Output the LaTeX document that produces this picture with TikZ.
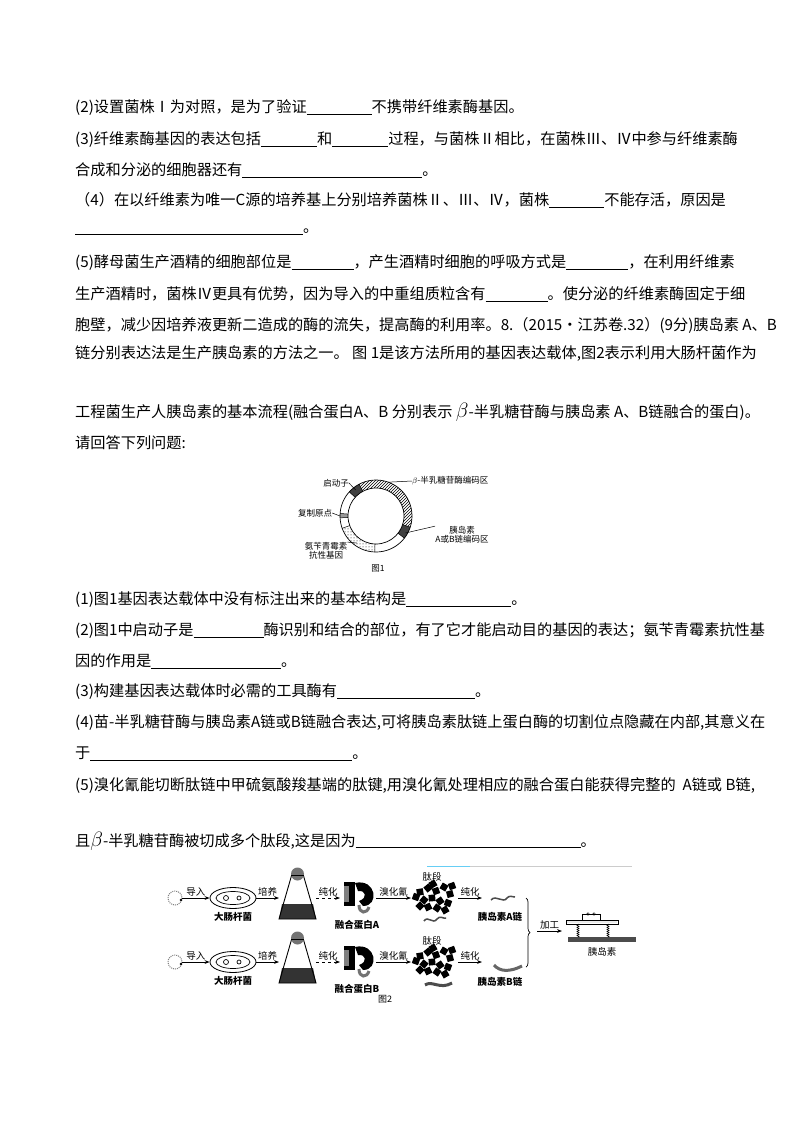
\documentclass[tikz,border=0pt]{standalone}
\usepackage{fontspec}
\setmainfont{Liberation Serif}
\newfontfamily\cjk{Noto Sans CJK SC}
\usetikzlibrary{patterns,decorations.pathreplacing,decorations.pathmorphing,arrows.meta,shapes.geometric}
\newcommand\blank[1]{\underline{\hspace{#1pt}}}
\tikzset{
 txt/.style={anchor=west,inner sep=0pt,font=\cjk\fontsize{15.2}{16}\selectfont},
 lab/.style={inner sep=0pt,font=\cjk\fontsize{8.5}{9.5}\selectfont,align=center},
 flab/.style={inner sep=0pt,font=\cjk\fontsize{9.5}{10}\selectfont,above=1pt},
 blab/.style={inner sep=0pt,font=\cjk\fontsize{9.5}{10}\selectfont\bfseries},
 flow/.style={-{Stealth[length=5pt]},line width=0.7pt},
}
\begin{document}
\begin{tikzpicture}[x=1pt,y=-1pt]
\useasboundingbox (0,0) rectangle (800,1132);
\fill[white] (0,0) rectangle (800,1132);
\node[txt] (l1) at (75,108) {(2)设置菌株Ⅰ为对照，是为了验证\blank{65}不携带纤维素酶基因。};
\node[txt] (l2) at (75,140) {(3)纤维素酶基因的表达包括\blank{56}和\blank{56}过程，与菌株Ⅱ相比，在菌株Ⅲ、Ⅳ中参与纤维素酶};
\node[txt] (l3) at (75,170) {合成和分泌的细胞器还有\blank{180}。};
\node[txt] (l4) at (75,200) {（4）在以纤维素为唯一C源的培养基上分别培养菌株Ⅱ、Ⅲ、Ⅳ，菌株\blank{55}不能存活，原因是};
\node[txt] (l5) at (75,232) {\blank{228}。};
\node[txt] (l6) at (75,263) {(5)酵母菌生产酒精的细胞部位是\blank{62}，产生酒精时细胞的呼吸方式是\blank{62}，在利用纤维素};
\node[txt] (l7) at (75,294) {生产酒精时，菌株Ⅳ更具有优势，因为导入的中重组质粒含有\blank{62}。使分泌的纤维素酶固定于细};
\node[txt] (l8) at (75,325) {胞壁，减少因培养液更新二造成的酶的流失，提高酶的利用率。8.（2015·江苏卷.32）(9分)胰岛素 A、B};
\node[txt] (l9) at (75,354) {链分别表达法是生产胰岛素的方法之一。 图 1是该方法所用的基因表达载体,图2表示利用大肠杆菌作为};
\node[txt] (l10) at (75,412) {工程菌生产人胰岛素的基本流程(融合蛋白A、B 分别表示 {\fontsize{21}{21}\selectfont$\beta$}-半乳糖苷酶与胰岛素 A、B链融合的蛋白)。};
\node[txt] (l11) at (75,443) {请回答下列问题:};
% Figure 1
\begin{scope}[shift={(376,516)},yscale=-1]
 \fill[white] (0,0) circle (36);
 \fill[pattern=north east lines] (118:36) arc (118:-18:36) -- (-18:28) arc (-18:118:28) -- cycle;
 \fill[pattern=dots] (200:36) arc (200:268:36) -- (268:28) arc (268:200:28) -- cycle;
 \fill[black!75] (118:36) arc (118:138:36) -- (138:28) arc (138:118:28) -- cycle;
 \fill[black!75] (-18:36) arc (-18:-38:36) -- (-38:28) arc (-38:-18:28) -- cycle;
 \fill[black!40] (176:36) arc (176:183:36) -- (183:28) arc (183:176:28) -- cycle;
 \draw[line width=0.7pt] (0,0) circle (36) (0,0) circle (28);
 \foreach \a in {118,138,-18,-38,176,183,200,268} \draw[line width=0.5pt] (\a:28) -- (\a:36);
 \coordinate (prom) at (128:33);
 \coordinate (ori) at (180:36);
 \coordinate (ins) at (-30:34);
 \coordinate (amp) at (235:33);
 \coordinate (bgal) at (70:36);
\end{scope}
\node[lab] (t1) at (336,483) {启动子};
\node[lab,anchor=west] (t2) at (412,481) {$\beta$-半乳糖苷酶编码区};
\node[lab] (t3) at (315,513) {复制原点};
\node[lab] (t4) at (462,535) {胰岛素\\A或B链编码区};
\node[lab] (t5) at (326,551) {氨苄青霉素\\抗性基因};
\node[lab] (c1) at (378,568) {图1};
\draw[line width=0.5pt] (t1.east) -- (prom);
\draw[line width=0.5pt] (t3.east) -- (ori);
\draw[line width=0.5pt] (t4.north west) -- (ins);
\draw[line width=0.5pt] (t5.north east) -- (amp);
\draw[line width=0.5pt] (bgal) -- (t2.west);
\node[txt] (l12) at (75,600) {(1)图1基因表达载体中没有标注出来的基本结构是\blank{105}。};
\node[txt] (l13) at (75,631) {(2)图1中启动子是\blank{70}酶识别和结合的部位，有了它才能启动目的基因的表达；氨苄青霉素抗性基};
\node[txt] (l14) at (75,661) {因的作用是\blank{130}。};
\node[txt] (l15) at (75,692) {(3)构建基因表达载体时必需的工具酶有\blank{138}。};
\node[txt] (l16) at (75,723) {(4)苗-半乳糖苷酶与胰岛素A链或B链融合表达,可将胰岛素肽链上蛋白酶的切割位点隐藏在内部,其意义在};
\node[txt] (l17) at (75,754) {于\blank{262}。};
\node[txt] (l18) at (75,786) {(5)溴化氰能切断肽链中甲硫氨酸羧基端的肽键,用溴化氰处理相应的融合蛋白能获得完整的\ \ A链或 B链,};
\node[txt] (l19) at (75,841) {且{\fontsize{21}{21}\selectfont$\beta$}-半乳糖苷酶被切成多个肽段,这是因为\blank{225}。};
% Figure 2
\draw[cyan!60,line width=0.8pt] (427,866) -- (470,866);
\draw[black!20,line width=0.5pt] (470,866) -- (632,866);
\foreach \r/\y/\L in {1/898/A,2/962/B}{
 \draw[black!50,line width=1pt,densely dotted] (175,\y) circle (7);
 \fill (181,\y+2) circle (1.3);
 \node[circle,minimum size=14pt,inner sep=0pt] (pl\r) at (175,\y) {};
 \node[ellipse,draw,line width=0.8pt,minimum width=46pt,minimum height=21pt,inner sep=0pt] (ec\r) at (233,\y) {};
 \draw[line width=0.7pt] (233,\y) ellipse (17 and 6.5);
 \draw[line width=0.7pt] (226,\y) circle (2.5) (239,\y) circle (2);
 \node[blab] at (233,\y+19) {大肠杆菌};
 \draw[flow] (pl\r) -- node[flab] {导入} (ec\r);
 \coordinate (fk\r) at (279,\y);
 \fill[black!80] (282,\y+6) -- (313,\y+6) -- (316,\y+21) -- (279,\y+21) -- cycle;
 \draw[line width=0.9pt] (292,\y-24) -- (279,\y+21) -- (316,\y+21) -- (303,\y-24);
 \fill[black!55] (297.5,\y-24) circle (6.5);
 \draw[line width=0.7pt] (291,\y-23) -- (304,\y-23);
 \draw[flow] (ec\r) -- node[flab] {培养} (fk\r);
 \fill[black] (344,\y-16) rectangle (355,\y+8);
 \fill[black] (355,\y-15) .. controls (376,\y-20) and (380,\y+8) .. (363,\y+8) -- (359,\y+3) .. controls (368,\y) and (366,\y-8) .. (358,\y-7) -- cycle;
 \fill[black!50] (344,\y-12) rectangle (349,\y+4);
 \draw[black!55,line width=3pt] (359,\y+7) .. controls (359,\y+16) and (367,\y+16) .. (369,\y+9);
 \node[blab] (fp\r) at (357,\y+27) {融合蛋白\L};
 \draw[flow,dashed] (316,\y) -- node[flab] {纯化} (340,\y);
 \foreach \px/\py/\rot in {420/-6/10,428/-10/40,436/-7/20,444/-11/60,450/-4/15,424/2/50,432/0/5,440/3/35,448/5/70,428/9/25,437/10/55,445/12/30,420/8/45,452/-12/20,416/-1/70,433/-14/30}{
  \fill[rotate around={\rot:(\px,\y+\py)}] (\px-3.3,\y+\py-3.3) rectangle (\px+3.3,\y+\py+3.3);
 }
 \node[inner sep=0pt,font=\cjk\fontsize{9.5}{10}\selectfont] at (432,\y-21) {肽段};
 \draw[flow] (376,\y) -- node[flab] {溴化氰} (411,\y);
 \draw[flow] (458,\y) -- node[flab] {纯化} (482,\y);
}
\draw[black!70,line width=1.5pt] (424,921) .. controls (428,915) and (433,925) .. (437,919) .. controls (440,915) and (443,919) .. (446,918);
\draw[black!70,line width=3pt] (425,985) .. controls (432,980) and (440,990) .. (452,983);
\draw[black!70,line width=1.5pt] (491,900) .. controls (496,894) and (503,904) .. (507,898) .. controls (509,895) and (513,897) .. (515,897);
\draw[black!60,line width=3pt] (494,965) .. controls (500,972) and (510,972) .. (522,966);
\node[blab] (ia) at (500,917) {胰岛素A链};
\node[blab] (ib) at (500,982) {胰岛素B链};
\draw[decorate,decoration={brace,amplitude=4pt},line width=0.7pt] (526,898) -- (526,967);
\node[inner sep=0pt,font=\cjk\fontsize{9.5}{10}\selectfont] (ins) at (602,952) {胰岛素};
\draw[black!70,fill=black!70] (568,937) rectangle (635,941);
\draw[line width=0.6pt] (566,920) rectangle (618,924);
\foreach \xx in {568,570,...,616} \fill (\xx,922) circle (0.4);
\draw[line width=0.5pt] (582,920) -- (582,914) -- (600,914) -- (600,920);
\draw[line width=0.4pt] (588,914) circle (1.3) (594,914) circle (1.3);
\draw[line width=0.5pt,decorate,decoration={zigzag,amplitude=1pt,segment length=2pt}] (578,924) -- (578,937);
\draw[line width=0.5pt,decorate,decoration={zigzag,amplitude=1pt,segment length=2pt}] (608,924) -- (608,937);
\draw[flow] (537,931) -- node[flab] {加工} (562,931);
\node[inner sep=0pt,font=\cjk\fontsize{9}{10}\selectfont] (c2) at (385,999) {图2};
\end{tikzpicture}
\end{document}
